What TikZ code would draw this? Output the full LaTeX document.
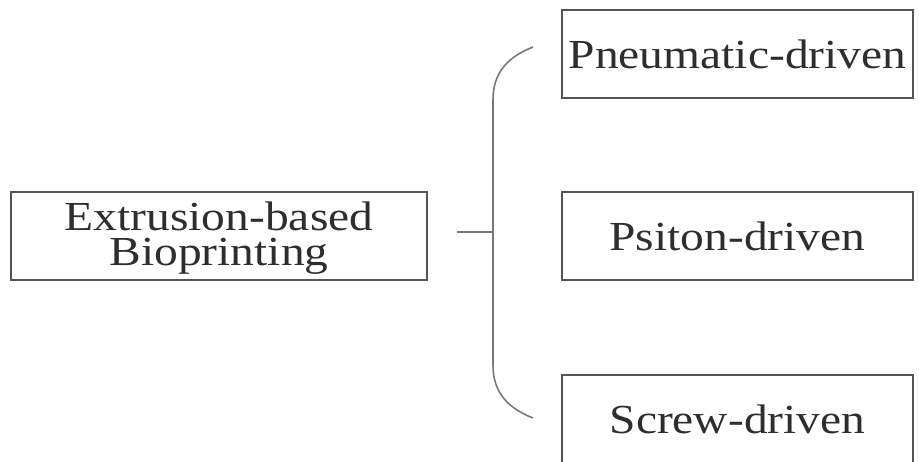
\documentclass[tikz,border=0pt]{standalone}
\usepackage{fontspec}
\setmainfont{Liberation Serif}[FakeStretch=1.15]
\usepackage{xcolor}
\usepackage{tikz}
\definecolor{boxgray}{HTML}{555555}
\definecolor{txtgray}{HTML}{2E2E2E}
\tikzset{
  method/.style={draw=boxgray, line width=1.1pt, rectangle, inner sep=0pt,
    minimum width=7.02cm, minimum height=1.76cm, text=txtgray,
    font=\fontsize{23.5}{20}\selectfont, align=center},
  rootbox/.style={method, minimum width=8.32cm, text depth=0.1cm},
  brace/.style={draw=boxgray!80, line width=0.9pt}
}

\begin{document}
\begin{tikzpicture}[x=0.02cm, y=-0.02cm]
\useasboundingbox (0,0) rectangle (919,461);
\node[rootbox] (Root) at (219,236) {Extrusion-based\\Bioprinting};
\node[method] (Pneu) at (737.5,54) {Pneumatic-driven};
\node[method] (Psit) at (737.5,236) {Psiton-driven};
\node[method] (Scrw) at (737.5,419) {Screw-driven};
% bracket
\coordinate (Tick) at (457,232);
\coordinate (Mid) at (493,232);
\coordinate (Top) at (533,47);
\coordinate (Bot) at (533,418);
\draw[brace] (Tick) -- (Mid);
\draw[brace] (Top) .. controls (505,58) and (493,75) .. (493,100) -- (493,365) .. controls (493,390) and (505,407) .. (Bot);
\end{tikzpicture}
\end{document}
